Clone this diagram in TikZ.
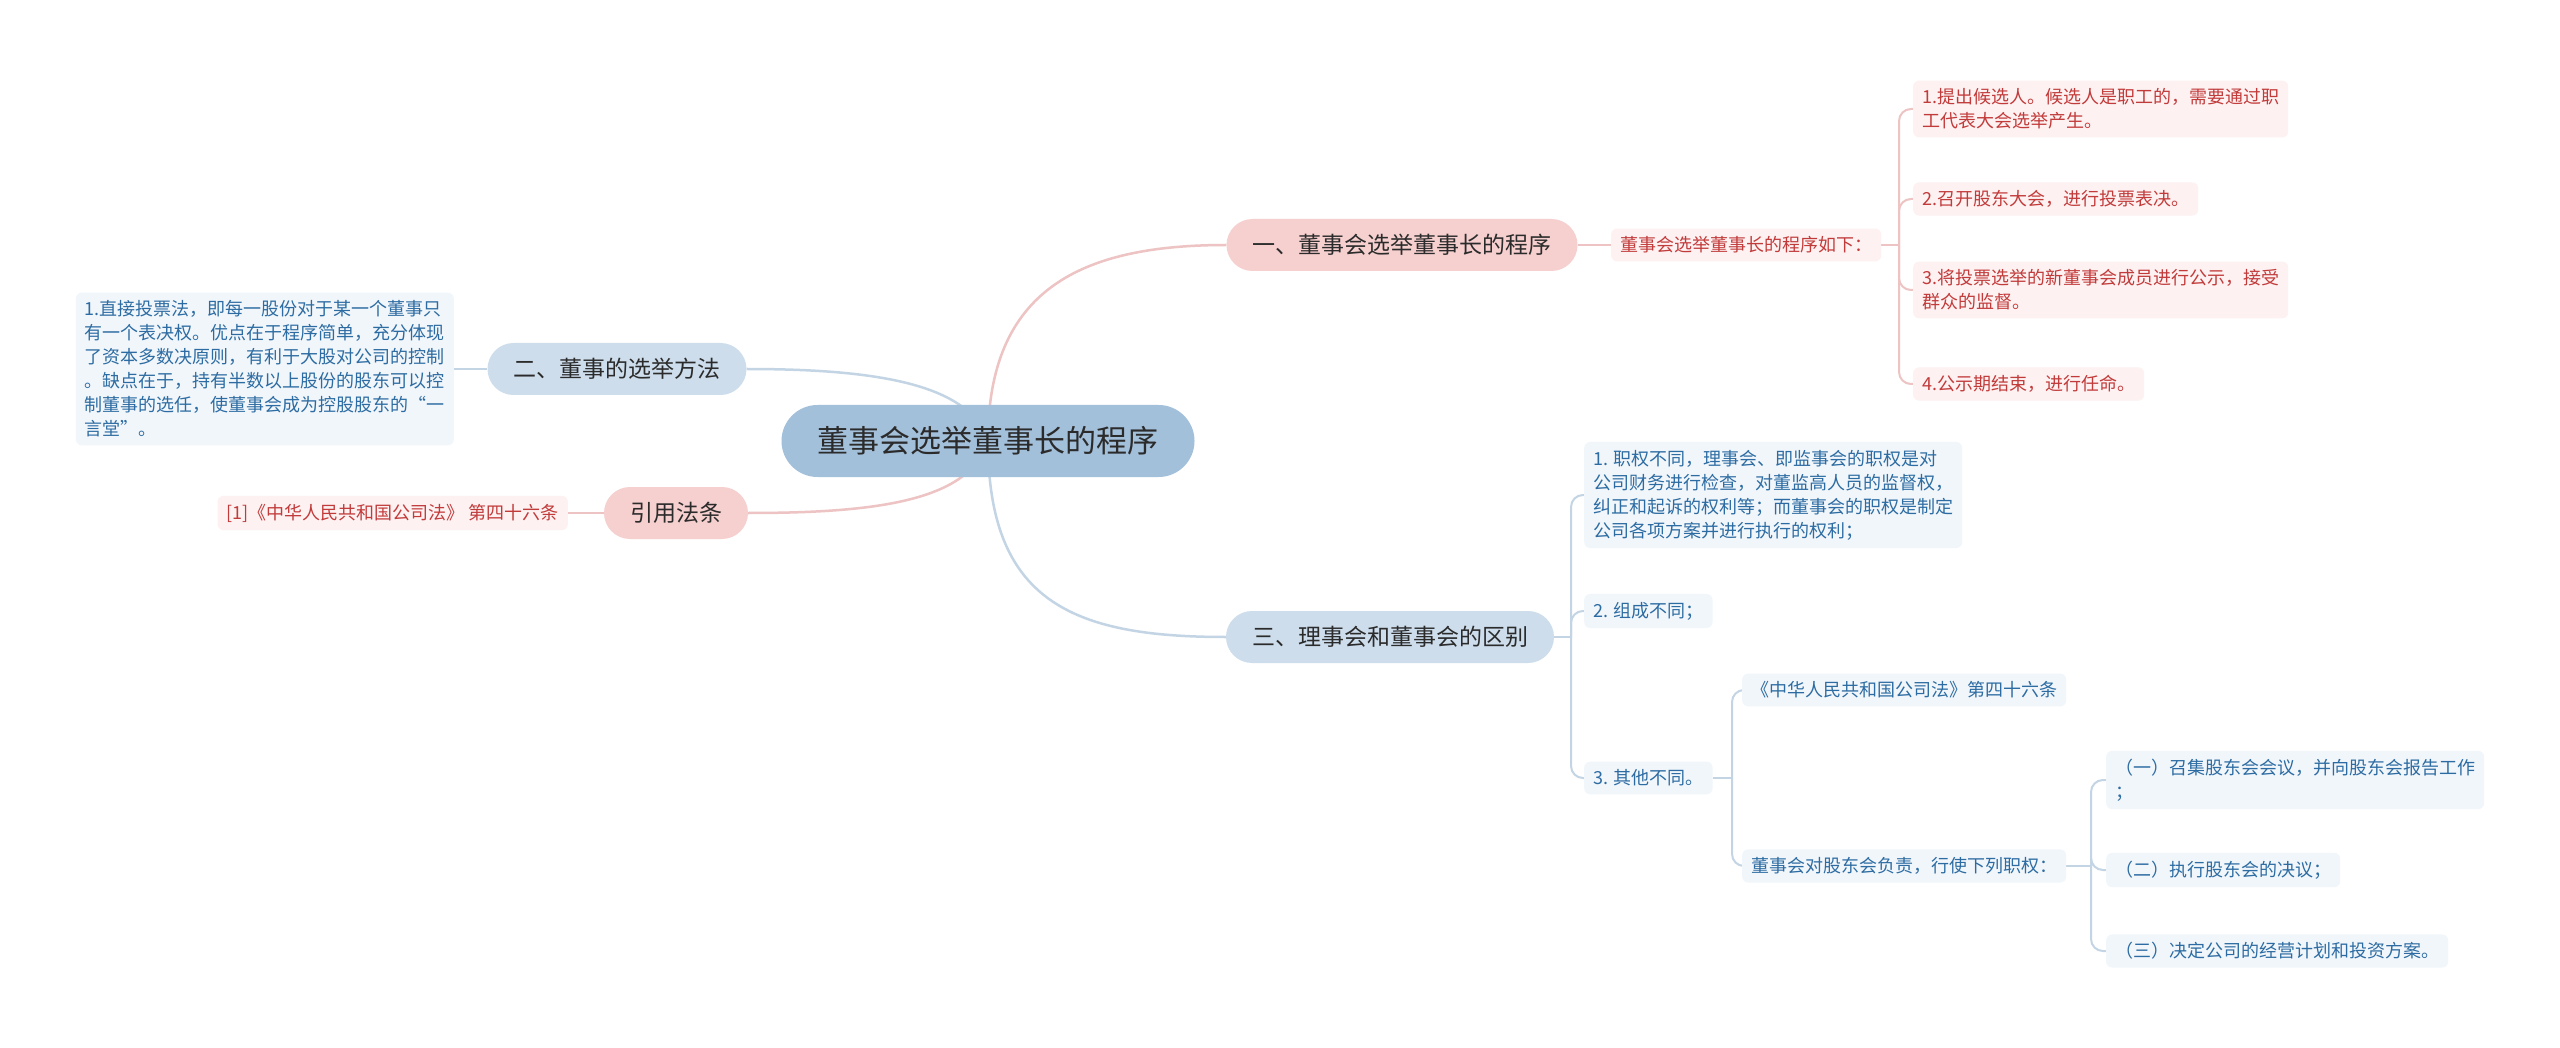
\documentclass[tikz,border=0pt]{standalone}
\usepackage{fontspec}
\setmainfont{Noto Sans CJK SC}
\definecolor{rootblue}{HTML}{A3C0DB}
\definecolor{pinkmain}{HTML}{F6CFCF}
\definecolor{bluemain}{HTML}{CDDDEC}
\definecolor{pinkleaf}{HTML}{FDF1F1}
\definecolor{blueleaf}{HTML}{F1F6FB}
\definecolor{redtext}{HTML}{C23B3B}
\definecolor{bluetext}{HTML}{2D6CA2}
\definecolor{darktext}{HTML}{2B2B2B}
\definecolor{pinkedge}{HTML}{EDC3C3}
\definecolor{blueedge}{HTML}{C3D4E4}
\pgfdeclarelayer{bgfill}
\pgfdeclarelayer{edges}
\pgfsetlayers{bgfill,edges,main}
\tikzset{
  rootnode/.style={fill=rootblue, rounded corners=36pt, minimum height=72pt, inner xsep=36pt, inner ysep=0pt, text=darktext, font=\fontsize{31}{38}\selectfont},
  mainpink/.style={fill=pinkmain, rounded corners=26pt, minimum height=52pt, inner xsep=26pt, inner ysep=0pt, text=darktext, font=\fontsize{23}{28}\selectfont},
  mainblue/.style={mainpink, fill=bluemain},
  leafpink/.style={fill=pinkleaf, text=redtext, rounded corners=6pt, inner xsep=9pt, inner ysep=8pt, align=left, font=\fontsize{18}{24}\selectfont},
  leafblue/.style={leafpink, fill=blueleaf, text=bluetext},
  pinkcurve/.style={draw=pinkedge, line width=2.5pt},
  bluecurve/.style={draw=blueedge, line width=2.5pt},
  pinkline/.style={draw=pinkedge, line width=2pt},
  blueline/.style={draw=blueedge, line width=2pt},
}
\begin{document}
\begin{tikzpicture}[x=1pt,y=-1pt]
\begin{pgfonlayer}{bgfill}
\fill[white] (0,0) rectangle (2560,1048);
\end{pgfonlayer}
\useasboundingbox (0,0) rectangle (2560,1048);

% root and main branches
\node[rootnode] (root) at (988,441) {董事会选举董事长的程序};
\node[mainpink] (m1) at (1402,245) {一、董事会选举董事长的程序};
\node[mainblue] (m3) at (1390,637) {三、理事会和董事会的区别};
\node[mainblue] (m2) at (617,369) {二、董事的选举方法};
\node[mainpink] (m4) at (676,513) {引用法条};

% branch 1
\node[leafpink, anchor=west] (L0) at (1611,245) {董事会选举董事长的程序如下：};
\node[leafpink, anchor=west] (L11) at (1913,109) {1.提出候选人。候选人是职工的，需要通过职\\工代表大会选举产生。};
\node[leafpink, anchor=west] (L12) at (1913,199) {2.召开股东大会，进行投票表决。};
\node[leafpink, anchor=west] (L13) at (1913,290) {3.将投票选举的新董事会成员进行公示，接受\\群众的监督。};
\node[leafpink, anchor=west] (L14) at (1913,384) {4.公示期结束，进行任命。};

% branch 2
\node[leafblue, anchor=east] (L2) at (454,369) {1.直接投票法，即每一股份对于某一个董事只\\有一个表决权。优点在于程序简单，充分体现\\了资本多数决原则，有利于大股对公司的控制\\。缺点在于，持有半数以上股份的股东可以控\\制董事的选任，使董事会成为控股股东的“一\\言堂”。};

% citation
\node[leafpink, anchor=east] (C1) at (568,513) {[1]《中华人民共和国公司法》 第四十六条};

% branch 3
\node[leafblue, anchor=west] (B1) at (1584,495) {1. 职权不同，理事会、即监事会的职权是对\\公司财务进行检查，对董监高人员的监督权，\\纠正和起诉的权利等；而董事会的职权是制定\\公司各项方案并进行执行的权利；};
\node[leafblue, anchor=west] (B2) at (1584,611) {2. 组成不同；};
\node[leafblue, anchor=west] (B3) at (1584,778) {3. 其他不同。};
\node[leafblue, anchor=west] (B3a) at (1742,690) {《中华人民共和国公司法》第四十六条};
\node[leafblue, anchor=west] (B3b) at (1742,866) {董事会对股东会负责，行使下列职权：};
\node[leafblue, anchor=west] (B3b1) at (2106,780) {（一）召集股东会会议，并向股东会报告工作\\；};
\node[leafblue, anchor=west] (B3b2) at (2106,870) {（二）执行股东会的决议；};
\node[leafblue, anchor=west] (B3b3) at (2106,951) {（三）决定公司的经营计划和投资方案。};

\coordinate (j1) at (1899,245);
\coordinate (j3) at (1571,637);
\coordinate (j4) at (1732,778);
\coordinate (j5) at (2091,866);

\begin{pgfonlayer}{edges}
\draw[pinkcurve] (root.center) .. controls (988,290) and (1080,245) .. (m1.west);
\draw[bluecurve] (root.center) .. controls (988,600) and (1070,637) .. (m3.west);
\draw[bluecurve] (root.center) .. controls (970,385) and (880,369) .. (m2.east);
\draw[pinkcurve] (root.center) .. controls (970,500) and (880,513) .. (m4.east);

\draw[pinkline] (m1.east) -- (L0.west);
\draw[pinkline] (L0.east) -- (j1);
\foreach \c in {L11,L12,L13,L14} \draw[pinkline, rounded corners=12pt] (j1) |- (\c.west);

\draw[blueline] (m2.west) -- (L2.east);
\draw[pinkline] (m4.west) -- (C1.east);

\draw[blueline] (m3.east) -- (j3);
\foreach \c in {B1,B2,B3} \draw[blueline, rounded corners=12pt] (j3) |- (\c.west);
\draw[blueline] (B3.east) -- (j4);
\foreach \c in {B3a,B3b} \draw[blueline, rounded corners=12pt] (j4) |- (\c.west);
\draw[blueline] (B3b.east) -- (j5);
\foreach \c in {B3b1,B3b2,B3b3} \draw[blueline, rounded corners=12pt] (j5) |- (\c.west);
\end{pgfonlayer}
\end{tikzpicture}
\end{document}
